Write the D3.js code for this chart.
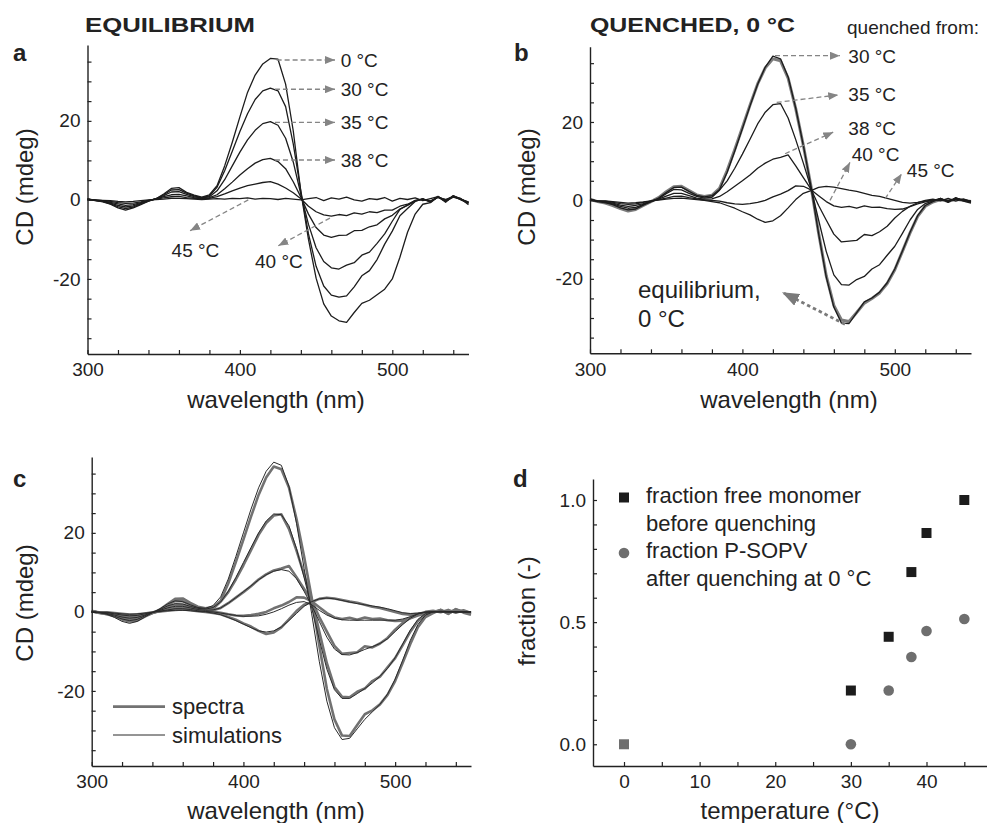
<!DOCTYPE html>
<html>
<head>
<meta charset="utf-8">
<script src="https://cdn.jsdelivr.net/npm/d3@7"></script>
<style>
  body { margin: 0; background: #fff; }
  svg text { font-family: "Liberation Sans", Arial, Helvetica, sans-serif; fill: #222; }
</style>
</head>
<body>
<svg id="fig" width="987" height="823"></svg>
<script>
// ---------- data ----------
// wavelength grid (nm) shared by every CD spectrum
const wavelength = [300,305,310,315,320,325,330,335,340,345,350,355,360,365,370,375,380,385,390,395,
  400,405,410,415,420,425,430,435,440,445,450,455,460,465,470,475,480,485,490,495,
  500,505,510,515,520,525,530,535,540,545,550];

// (a) equilibrium spectra, CD in mdeg
const eq0 = [0.3,-0.1,-0.5,-1.1,-2.0,-2.6,-2.0,-1.2,-0.3,0.3,1.5,2.9,3.1,1.9,1.2,0.7,1.3,3.6,8.6,14.6,
  21.0,27.2,31.6,34.4,35.8,35.6,29.3,17.5,2.0,-10.0,-19.8,-26.3,-29.4,-30.6,-31.0,-28.5,-26.2,-25.4,-24.0,-22.6,
  -20.0,-14.5,-8.2,-3.6,-1.1,-0.7,0.8,-0.6,1.0,0.3,-1.2];
const eq30 = [0.2,-0.2,-0.4,-1.0,-1.7,-2.2,-1.8,-1.0,-0.3,0.3,1.3,2.5,2.6,1.7,1.0,0.6,1.0,3.2,7.4,12.3,
  17.3,21.8,25.4,27.6,28.3,27.6,23.6,14.2,2.2,-8.6,-16.8,-21.8,-24.1,-24.6,-24.3,-22.0,-19.2,-17.9,-15.1,-11.2,
  -7.9,-4.0,-2.2,-0.4,0.3,-0.6,0.9,-0.4,1.1,0.0,-0.9];
const eq35 = [0.2,-0.1,-0.4,-0.8,-1.4,-1.8,-1.5,-0.9,-0.2,0.3,1.1,2.0,2.1,1.4,0.8,0.5,0.8,2.3,5.1,8.6,
  12.1,15.2,17.6,19.3,19.8,18.9,15.6,9.6,1.4,-6.2,-12.1,-15.6,-17.2,-17.5,-16.5,-15.9,-14.0,-13.2,-11.0,-8.6,
  -5.4,-2.4,-1.3,-0.1,0.2,-0.5,0.7,-0.3,0.9,0.3,-0.7];
const eq38 = [0.1,-0.1,-0.3,-0.6,-1.0,-1.4,-1.2,-0.7,-0.2,0.2,0.8,1.3,1.4,1.0,0.6,0.4,0.6,1.3,2.8,4.5,
  6.3,7.9,9.3,10.2,10.5,9.7,7.9,4.6,0.7,-3.6,-7.0,-8.9,-9.5,-9.0,-8.9,-7.8,-7.7,-6.8,-6.3,-4.8,
  -3.9,-2.3,-1.4,-0.3,0.2,-0.3,0.8,0.0,0.9,0.2,-0.6];
const eq40 = [0.1,0.0,-0.2,-0.4,-0.7,-0.9,-0.8,-0.5,-0.1,0.2,0.5,0.8,0.9,0.6,0.4,0.3,0.4,0.8,1.5,2.3,
  3.0,3.6,4.0,4.4,4.6,4.0,3.0,1.8,0.3,-1.6,-3.0,-3.8,-4.1,-3.7,-4.0,-3.3,-3.6,-3.0,-3.2,-2.6,
  -2.6,-1.6,-1.1,-0.2,0.2,-0.3,0.6,0.1,0.8,0.1,-0.5];
const eq45 = [0.1,0.0,-0.1,-0.2,-0.4,-0.5,-0.4,-0.2,0.0,0.1,0.2,0.4,0.4,0.3,0.2,0.1,0.2,0.3,0.2,0.4,
  0.3,0.5,0.2,0.4,0.3,0.1,0.4,0.2,0.0,0.3,0.6,-0.2,0.5,0.2,0.7,0.0,-0.3,0.3,0.1,0.6,
  -0.3,0.4,0.1,0.5,-0.2,0.3,0.8,-0.3,0.7,0.1,-0.7];

// (b) spectra at 0 °C after quenching from the given temperature
const q30 = [0.3,-0.2,-0.6,-1.1,-1.9,-2.4,-2.2,-1.2,-0.3,0.6,2.0,3.3,3.4,2.3,1.3,0.9,1.2,2.8,7.2,12.6,
  18.3,24.1,29.6,34.0,36.8,36.1,31.5,23.5,14.0,3.6,-8.5,-19.5,-27.2,-31.3,-31.4,-28.6,-25.9,-24.9,-23.4,-21.0,
  -17.5,-12.9,-8.1,-3.9,-1.3,-0.3,0.5,-0.5,0.7,-0.2,-0.7];
const q35 = [0.2,-0.3,-0.5,-0.9,-1.5,-2.0,-1.8,-1.0,-0.3,0.4,1.7,2.8,2.7,1.8,1.0,0.6,0.8,2.6,5.0,8.2,
  11.8,15.6,19.5,22.5,24.4,24.7,21.0,15.5,9.5,3.2,-5.0,-13.0,-19.0,-21.5,-21.6,-20.2,-19.4,-17.5,-16.4,-14.0,
  -11.7,-8.4,-5.0,-2.3,-0.8,-0.1,0.5,-0.4,0.6,0.1,-0.5];
const q38 = [0.1,-0.2,-0.3,-0.7,-1.2,-1.5,-1.3,-0.8,-0.2,0.3,1.1,1.8,1.8,1.2,0.6,0.3,0.4,1.0,2.2,3.6,
  5.0,6.5,8.2,9.5,10.5,11.0,11.6,8.8,5.8,2.9,-1.3,-5.0,-8.6,-10.6,-10.4,-10.2,-8.7,-9.0,-8.0,-6.6,
  -4.5,-2.8,-1.5,-0.6,0.0,0.3,-0.1,0.5,-0.2,0.4,-0.3];
const q40 = [0.2,-0.2,-0.2,-0.5,-0.8,-1.0,-0.9,-0.5,-0.2,0.2,0.6,1.0,1.1,0.7,0.4,0.1,0.0,-0.2,-0.6,-0.9,
  -1.0,-0.8,-0.5,0.0,0.9,1.6,2.5,3.7,3.6,2.7,1.2,-0.3,-1.4,-1.8,-1.5,-2.0,-1.4,-1.8,-1.7,-2.1,
  -2.3,-2.2,-1.6,-0.9,-0.4,0.0,0.2,-0.1,0.3,0.1,-0.2];
const q45 = [0.1,-0.1,-0.1,-0.3,-0.5,-0.7,-0.6,-0.4,-0.1,0.1,0.3,0.5,0.6,0.4,0.2,0.0,-0.3,-0.6,-1.3,-2.0,
  -2.9,-3.7,-4.8,-5.6,-5.2,-3.9,-1.9,0.2,1.8,2.5,3.3,3.6,3.4,3.0,2.6,2.3,1.8,1.3,1.0,0.5,
  0.0,-0.5,-0.7,-0.5,-0.2,0.1,0.3,0.0,0.3,0.1,-0.2];
// equilibrium spectrum at 0 °C, shown for reference in (b)
const eqRef0 = [0.3,-0.3,-0.7,-1.3,-2.1,-2.7,-2.3,-1.3,-0.3,0.7,2.2,3.5,3.6,2.5,1.4,1.0,1.3,3.1,7.6,13.0,
  18.6,24.3,29.7,33.8,36.1,35.6,31.2,23.4,14.0,3.6,-8.3,-19.2,-26.8,-30.5,-30.9,-28.6,-26.2,-25.0,-23.6,-21.2,
  -17.7,-13.0,-8.3,-4.1,-1.5,-0.4,0.2,-0.2,0.3,0.0,-0.3];

// (c) simulated spectra for the quenched samples
const sim30 = [0.0,-0.2,-0.6,-1.4,-2.4,-2.9,-2.4,-1.3,-0.2,0.8,2.0,2.8,2.6,1.8,1.1,0.9,1.6,3.8,8.3,14.0,
  20.0,26.0,31.4,35.6,37.9,37.1,31.8,22.4,11.0,-0.5,-12.5,-22.6,-29.3,-32.3,-32.0,-29.6,-27.2,-25.3,-23.4,-20.8,
  -17.0,-12.2,-7.2,-3.2,-0.8,0.0,0.2,0.1,0.0,0.0,0.0];
const sim35 = [0.0,-0.2,-0.5,-1.1,-1.8,-2.2,-1.9,-1.0,-0.2,0.6,1.5,2.1,2.0,1.4,0.9,0.7,1.1,2.5,5.2,8.7,
  12.5,16.3,20.0,23.0,24.8,24.6,21.8,16.0,8.7,1.0,-7.0,-14.5,-19.7,-21.9,-21.9,-20.7,-19.4,-18.0,-16.3,-14.3,
  -11.6,-8.1,-4.6,-1.9,-0.4,0.0,0.1,0.0,0.0,0.0,0.0];
const sim38 = [0.0,-0.1,-0.4,-0.8,-1.3,-1.6,-1.4,-0.8,-0.1,0.4,1.0,1.4,1.4,1.0,0.6,0.4,0.5,1.0,2.2,3.6,
  5.1,6.6,8.1,9.4,10.3,10.7,10.3,8.4,5.2,1.6,-2.4,-6.4,-9.4,-10.8,-10.9,-10.3,-9.5,-8.8,-8.0,-6.8,
  -5.0,-3.2,-1.6,-0.5,0.0,0.1,0.0,0.0,0.0,0.0,0.0];
const sim40 = [0.0,-0.1,-0.2,-0.5,-0.8,-1.0,-0.9,-0.5,-0.1,0.2,0.5,0.8,0.8,0.6,0.3,0.1,0.0,-0.3,-0.6,-0.9,
  -1.1,-1.1,-1.0,-0.6,0.0,0.8,1.7,2.4,2.6,1.8,0.4,-0.8,-1.6,-2.0,-2.1,-2.1,-2.1,-2.1,-2.1,-2.1,
  -2.1,-1.8,-1.2,-0.5,-0.1,0.0,0.0,0.0,0.0,0.0,0.0];
const sim45 = [0.0,-0.1,-0.1,-0.3,-0.5,-0.6,-0.5,-0.3,-0.1,0.1,0.3,0.4,0.4,0.3,0.1,0.0,-0.3,-0.7,-1.4,-2.2,
  -3.1,-4.0,-4.8,-5.1,-4.8,-3.8,-2.2,-0.4,1.4,2.6,3.3,3.5,3.3,2.9,2.5,2.1,1.8,1.5,1.2,0.8,
  0.3,-0.2,-0.4,-0.3,-0.1,0.0,0.0,0.0,0.0,0.0,0.0];

// (d) fractions versus temperature
const temperature = [0, 30, 35, 38, 40, 45];
const fractionFreeMonomer = [0, 0.22, 0.44, 0.705, 0.865, 1.0];
const fractionPSOPV = [0, 0, 0.22, 0.357, 0.464, 0.513];

// tick values
const wlTicks = [300,320,340,360,380,400,420,440,460,480,500,520,540];
const wlLabels = [300, 400, 500];
const cdTicks = [-35,-30,-25,-20,-15,-10,-5,0,5,10,15,20,25,30,35];
const cdLabels = [-20, 0, 20];
const tTicks = [0,5,10,15,20,25,30,35,40,45];
const tLabels = [0, 10, 20, 30, 40];
const fTicks = [0,0.1,0.2,0.3,0.4,0.5,0.6,0.7,0.8,0.9,1.0];
const fLabels = [0, 0.5, 1.0];

// annotation labels: arrow from/to and label anchor, in data units
const annotA = [
  { text: "0 °C",  from: [424.1, 35.4], to: [462.4, 35.4], at: [466.1, 35.4] },
  { text: "30 °C", from: [423, 28.0],   to: [462.4, 28.0], at: [466.1, 28.0] },
  { text: "35 °C", from: [423, 19.6],   to: [462.4, 19.6], at: [466.1, 19.6] },
  { text: "38 °C", from: [423, 10.1],   to: [462.4, 10.1], at: [466.1, 10.1] },
  { text: "45 °C", from: [405.5, 0],    to: [367.3, -7.8], at: [355.2, -12.7] },
  { text: "40 °C", from: [459.1, -4.6], to: [425.2, -11.6], at: [409.9, -15.6] }
];
const annotB = [
  { text: "30 °C", from: [421.4, 36.9], to: [464.0, 36.9], at: [469.5, 36.9] },
  { text: "35 °C", from: [422.5, 25.0], to: [462.9, 26.9], at: [469.5, 27.1] },
  { text: "38 °C", from: [428.0, 11.9], to: [459.6, 17.4], at: [469.5, 18.4] },
  { text: "40 °C", from: [457.5, 0.0],  to: [470.6, 9.7],  at: [471.7, 11.9] },
  { text: "45 °C", from: [493.6, 0.4],  to: [504.5, 6.8],  at: [507.9, 7.6] }
];
const annotBEq = { lines: ["equilibrium,", "0 °C"], from: [467.3, -31.6], to: [426.0, -23.4], at: [331.5, -24.8] };

// ---------- drawing ----------
const svg = d3.select("#fig");
const INK = "#222";
const LINE = "#1c1c1c";
const GREY = "#7c7c7c";

const defs = svg.append("defs");
function arrowMarker(id, w, h, color) {
  defs.append("marker")
    .attr("id", id).attr("viewBox", `0 0 ${w} ${h}`)
    .attr("refX", w).attr("refY", h / 2)
    .attr("markerWidth", w).attr("markerHeight", h)
    .attr("markerUnits", "userSpaceOnUse").attr("orient", "auto")
    .append("path").attr("d", `M0,0L${w},${h / 2}L0,${h}Z`).attr("fill", color);
}
arrowMarker("arrowSmall", 10, 8, "#858585");
arrowMarker("arrowBig", 17, 13, "#7a7a7a");

function styleAxis(g) {
  g.select(".domain").attr("stroke", INK).attr("stroke-width", 1.4);
  g.selectAll(".tick line").attr("stroke", INK).attr("stroke-width", 1.2);
  g.selectAll(".tick text").attr("font-size", 19).attr("fill", INK)
    .attr("font-family", '"Liberation Sans", Arial, sans-serif');
}

function drawAxes(x, y, xt, xl, yt, yl, fmt) {
  const xAxis = d3.axisBottom(x).tickValues(xt).tickSize(-4).tickSizeOuter(0).tickPadding(9)
    .tickFormat(d => xl.includes(d) ? String(d) : "");
  const yAxis = d3.axisLeft(y).tickValues(yt).tickSize(-4).tickSizeOuter(0).tickPadding(7)
    .tickFormat(d => yl.some(v => Math.abs(v - d) < 1e-9) ? fmt(d) : "");
  svg.append("g").attr("transform", `translate(0,${y.range()[0]})`).call(xAxis).call(styleAxis);
  svg.append("g").attr("transform", `translate(${x.range()[0]},0)`).call(yAxis).call(styleAxis);
}

function axisTitles(xTitle, xc, xBase, yTitle, yBaseX, yc) {
  svg.append("text").attr("x", xc).attr("y", xBase).attr("text-anchor", "middle")
    .attr("font-size", 24).text(xTitle);
  svg.append("text").attr("transform", `translate(${yBaseX},${yc}) rotate(-90)`)
    .attr("text-anchor", "middle").attr("font-size", 24).text(yTitle);
}

function panelLetter(t, x, y) {
  svg.append("text").attr("x", x).attr("y", y).attr("font-size", 24)
    .attr("font-weight", "bold").text(t);
}

function spectrumLine(x, y) {
  return d3.line().x((d, i) => x(wavelength[i])).y(d => y(d));
}

function drawAnnotations(list, x, y) {
  list.forEach(a => {
    svg.append("line")
      .attr("x1", x(a.from[0])).attr("y1", y(a.from[1]))
      .attr("x2", x(a.to[0])).attr("y2", y(a.to[1]))
      .attr("stroke", "#858585").attr("stroke-width", 1.3)
      .attr("stroke-dasharray", "5,3").attr("marker-end", "url(#arrowSmall)");
    svg.append("text").attr("x", x(a.at[0])).attr("y", y(a.at[1]) + 6.8)
      .attr("font-size", 19).text(a.text);
  });
}

// ----- panel a -----
{
  const x = d3.scaleLinear().domain([300, 550]).range([87.5, 468.5]);
  const y = d3.scaleLinear().domain([-39, 39.2]).range([354, 45]);
  const line = spectrumLine(x, y);
  [eq45, eq40, eq38, eq35, eq30, eq0].forEach(s => {
    svg.append("path").attr("d", line(s)).attr("fill", "none")
      .attr("stroke", LINE).attr("stroke-width", 1.3).attr("stroke-linejoin", "round");
  });
  drawAxes(x, y, wlTicks, wlLabels, cdTicks, cdLabels, d => String(d));
  drawAnnotations(annotA, x, y);
  axisTitles("wavelength (nm)", 276, 408, "CD (mdeg)", 33, 187);
  panelLetter("a", 13, 61);
  svg.append("text").attr("x", 85).attr("y", 32).attr("font-size", 21).attr("font-weight", "bold")
    .attr("textLength", 170).attr("lengthAdjust", "spacingAndGlyphs").text("EQUILIBRIUM");
}

// ----- panel b -----
{
  const x = d3.scaleLinear().domain([300, 550]).range([590, 971]);
  const y = d3.scaleLinear().domain([-39, 39.2]).range([353.3, 46.7]);
  const line = spectrumLine(x, y);
  svg.append("path").attr("d", line(eqRef0)).attr("fill", "none")
    .attr("stroke", GREY).attr("stroke-width", 3).attr("stroke-linejoin", "round");
  [q45, q40, q38, q35, q30].forEach(s => {
    svg.append("path").attr("d", line(s)).attr("fill", "none")
      .attr("stroke", LINE).attr("stroke-width", 1.3).attr("stroke-linejoin", "round");
  });
  drawAxes(x, y, wlTicks, wlLabels, cdTicks, cdLabels, d => String(d));
  drawAnnotations(annotB, x, y);
  svg.append("line")
    .attr("x1", x(annotBEq.from[0])).attr("y1", y(annotBEq.from[1]))
    .attr("x2", x(annotBEq.to[0])).attr("y2", y(annotBEq.to[1]))
    .attr("stroke", "#7a7a7a").attr("stroke-width", 2.8)
    .attr("stroke-dasharray", "3.5,3").attr("marker-end", "url(#arrowBig)");
  annotBEq.lines.forEach((t, i) => {
    svg.append("text").attr("x", x(annotBEq.at[0])).attr("y", y(annotBEq.at[1]) + i * 29)
      .attr("font-size", 24).text(t);
  });
  axisTitles("wavelength (nm)", 789, 408, "CD (mdeg)", 535, 187);
  panelLetter("b", 514, 61);
  svg.append("text").attr("x", 590).attr("y", 32).attr("font-size", 21).attr("font-weight", "bold")
    .attr("textLength", 205).attr("lengthAdjust", "spacingAndGlyphs").text("QUENCHED, 0 °C");
  svg.append("text").attr("x", 847).attr("y", 34).attr("font-size", 19).text("quenched from:");
}

// ----- panel c -----
{
  const x = d3.scaleLinear().domain([300, 550]).range([91.7, 471]);
  const y = d3.scaleLinear().domain([-39, 39.2]).range([766, 457]);
  const line = spectrumLine(x, y);
  [q30, q35, q38, q40, q45].forEach(s => {
    svg.append("path").attr("d", line(s)).attr("fill", "none")
      .attr("stroke", "#727272").attr("stroke-width", 2.6).attr("stroke-linejoin", "round");
  });
  [sim30, sim35, sim38, sim40, sim45].forEach(s => {
    svg.append("path").attr("d", line(s)).attr("fill", "none")
      .attr("stroke", "#2a2a2a").attr("stroke-width", 1.0).attr("stroke-linejoin", "round");
  });
  drawAxes(x, y, wlTicks, wlLabels, cdTicks, cdLabels, d => String(d));
  axisTitles("wavelength (nm)", 276, 819, "CD (mdeg)", 33, 603);
  panelLetter("c", 13, 487);
  const leg = [
    { text: "spectra", color: "#727272", width: 2.8, y: 706.7 },
    { text: "simulations", color: "#2a2a2a", width: 1.0, y: 735 }
  ];
  leg.forEach(l => {
    svg.append("line").attr("x1", 113).attr("x2", 165).attr("y1", l.y).attr("y2", l.y)
      .attr("stroke", l.color).attr("stroke-width", l.width);
    svg.append("text").attr("x", 172).attr("y", l.y + 7.5).attr("font-size", 22).text(l.text);
  });
}

// ----- panel d -----
{
  const x = d3.scaleLinear().domain([-4.1, 48]).range([593, 987]);
  const y = d3.scaleLinear().domain([-0.089, 1.086]).range([766, 479]);
  drawAxes(x, y, tTicks, tLabels, fTicks, fLabels, d3.format(".1f"));
  const sq = d3.symbol(d3.symbolSquare, 100);
  const pts = temperature.map((t, i) => ({ t, m: fractionFreeMonomer[i], p: fractionPSOPV[i] }));
  svg.selectAll(".sq").data(pts).enter().append("path")
    .attr("d", sq).attr("transform", d => `translate(${x(d.t)},${y(d.m)})`)
    .attr("fill", d => d.m === d.p ? "#6e6e6e" : "#1c1c1c");
  svg.selectAll(".ci").data(pts.filter(d => d.m !== d.p)).enter().append("circle")
    .attr("cx", d => x(d.t)).attr("cy", d => y(d.p)).attr("r", 5.3).attr("fill", "#6e6e6e");
  axisTitles("temperature (°C)", 790, 819, "fraction (-)", 535, 611);
  panelLetter("d", 513, 487);
  // legend
  svg.append("path").attr("d", sq).attr("transform", "translate(624,497.5)").attr("fill", "#1c1c1c");
  svg.append("circle").attr("cx", 624).attr("cy", 553).attr("r", 5.3).attr("fill", "#6e6e6e");
  ["fraction free monomer", "before quenching", "fraction P-SOPV", "after quenching at 0 °C"]
    .forEach((t, i) => {
      svg.append("text").attr("x", 646).attr("y", 503.3 + i * 27.5).attr("font-size", 22).text(t);
    });
}
</script>
</body>
</html>
